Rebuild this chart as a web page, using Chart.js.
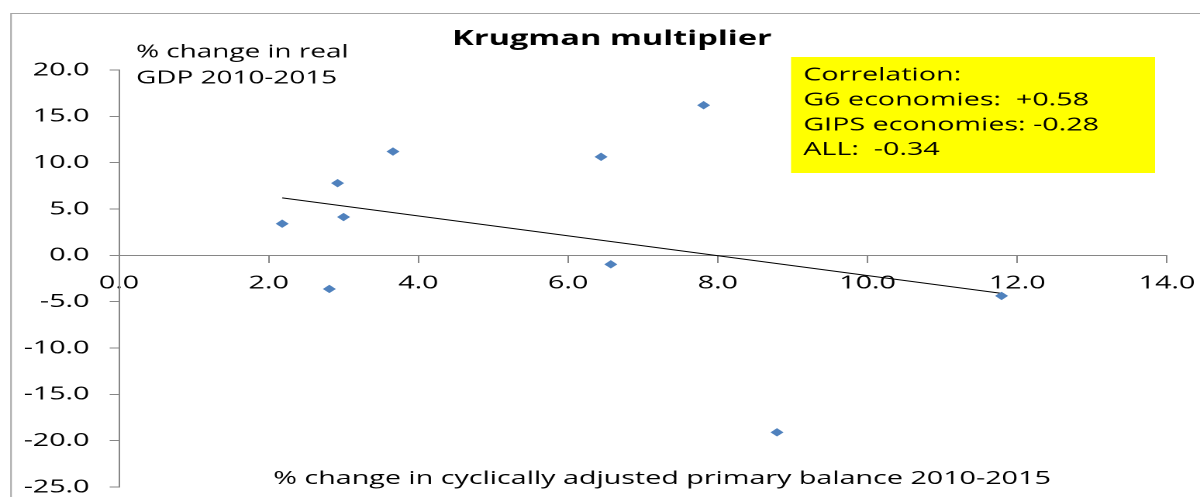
<!DOCTYPE html>
<html>
<head>
<meta charset="utf-8">
<title>Krugman multiplier</title>
<script src="https://cdn.jsdelivr.net/npm/chart.js@4.4.1/dist/chart.umd.min.js"></script>
<style>
  html, body { margin: 0; padding: 0; background: #fff; overflow: hidden; }
  /* the original is a wide, horizontally stretched picture: draw narrow, stretch on screen */
  #wrap { width: 774px; height: 497px; transform: scaleX(1.5504); transform-origin: 0 0; }
</style>
</head>
<body>
<div id="wrap"><canvas id="krugmanChart" width="774" height="497"></canvas></div>
<script>
// % change in cyclically adjusted primary balance vs % change in real GDP, 2010-2015
const balanceChange = [2.18, 2.81, 2.92, 3.0, 3.66, 6.44, 6.57, 7.81, 8.79, 11.79];
const gdpChange = [3.41, -3.63, 7.79, 4.13, 11.2, 10.63, -0.97, 16.2, -19.1, -4.38];

// linear trendline, ends
const trendX = [2.18, 11.79];
const trendY = [6.2, -4.1];

const xTicks = [0, 2, 4, 6, 8, 10, 12, 14];
const yTicks = [-25, -20, -15, -10, -5, 0, 5, 10, 15, 20];

const correlationLines = [
  "Correlation:",
  "G6 economies:  +0.58",
  "GIPS economies: -0.28",
  "ALL:  -0.34"
];

const axisGrey = "#868686";
const tickFont = { family: "Open Sans", size: 18.5 };

const overlay = {
  id: "overlay",
  beforeDraw(chart) {
    const ctx = chart.ctx;
    ctx.save();
    ctx.strokeStyle = "#a6a6a6";
    ctx.lineWidth = 1;
    ctx.beginPath();
    ctx.moveTo(7.1, 497);
    ctx.lineTo(7.1, 13.5);
    ctx.lineTo(774, 13.5);
    ctx.stroke();
    ctx.restore();
  },
  afterDraw(chart) {
    const ctx = chart.ctx;
    ctx.save();
    ctx.fillStyle = "#ffff00";
    ctx.fillRect(510.2, 57, 234.8, 116);

    ctx.fillStyle = "#000";
    ctx.textBaseline = "alphabetic";
    ctx.textAlign = "center";
    ctx.font = 'bold 21px "Open Sans"';
    ctx.fillText("Krugman multiplier", 394.7, 45);

    ctx.font = '18.5px "Open Sans"';
    ctx.fillText("% change in cyclically adjusted primary balance 2010-2015", 427, 484);

    ctx.textAlign = "left";
    ctx.font = '18px "Open Sans"';
    ctx.fillText("% change in real", 87.7, 57.3);
    ctx.fillText("GDP 2010-2015", 87.7, 83.3);
    ctx.font = '18.5px "Open Sans"';
    correlationLines.forEach((t, i) => ctx.fillText(t, 518.1, 80.7 + i * 24.8));
    ctx.restore();
  }
};

new Chart(document.getElementById("krugmanChart"), {
  type: "scatter",
  data: {
    datasets: [
      {
        label: "Economies",
        data: balanceChange.map((x, i) => ({ x: x, y: gdpChange[i] })),
        pointStyle: "rectRot",
        pointRadius: 4.2,
        pointBackgroundColor: "#4f81bd",
        pointBorderColor: "#4f81bd",
        pointBorderWidth: 0,
        showLine: false
      },
      {
        label: "Trend",
        data: trendX.map((x, i) => ({ x: x, y: trendY[i] })),
        showLine: true,
        borderColor: "#000",
        borderWidth: 1,
        pointRadius: 0
      }
    ]
  },
  options: {
    responsive: false,
    devicePixelRatio: 2,
    animation: false,
    layout: { padding: { left: 0, right: 21.3, top: 70, bottom: 10 } },
    plugins: { legend: { display: false }, tooltip: { enabled: false } },
    scales: {
      x: {
        type: "linear",
        min: xTicks[0],
        max: xTicks[xTicks.length - 1],
        position: { y: 0 },
        afterBuildTicks: (s) => { s.ticks = xTicks.map((v) => ({ value: v })); },
        // keep the edge labels from pushing the plot area in
        afterFit: (s) => { s.paddingLeft = 0; s.paddingRight = 0; },
        ticks: { callback: (v) => v.toFixed(1), color: "#000", font: tickFont, padding: 10, maxRotation: 0 },
        grid: { drawOnChartArea: false, tickLength: 7, color: axisGrey },
        border: { color: axisGrey }
      },
      y: {
        min: yTicks[0],
        max: yTicks[yTicks.length - 1],
        afterBuildTicks: (s) => { s.ticks = yTicks.map((v) => ({ value: v })); },
        afterFit: (s) => { s.width = 76.75; s.paddingTop = 0; s.paddingBottom = 0; },
        ticks: { callback: (v) => v.toFixed(1), color: "#000", font: tickFont, padding: 13 },
        grid: { drawOnChartArea: false, tickLength: 6, color: axisGrey },
        border: { color: axisGrey }
      }
    }
  },
  plugins: [overlay]
});
</script>
</body>
</html>
